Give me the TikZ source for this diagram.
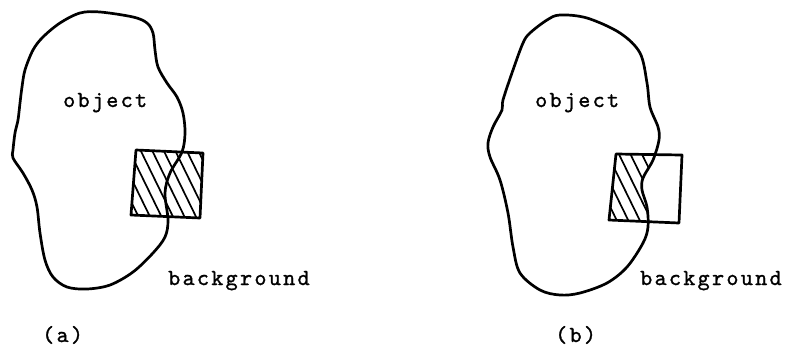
\documentclass[tikz,border=0pt]{standalone}
\usepackage{fontspec}
\newfontfamily\typewriter{lmmono10-regular}[Extension=.otf, LetterSpace=10, FakeBold=1.2]
\tikzset{
  outline/.style={line width=2.7pt, line join=round},
  window/.style={line width=2.7pt, line join=round},
  hatch/.style={line width=1.7pt},
  label/.style={font=\typewriter\fontsize{23}{26}\selectfont, inner sep=0pt, anchor=base west},
}
\begin{document}
\begin{tikzpicture}[x=1pt,y=-1pt]
\useasboundingbox (0,0) rectangle (789,349);

% ---------- (a): window straddling the boundary, fully hatched ----------
\def\blobA{plot[smooth cycle, tension=0.55] coordinates {
  (80,13) (100,12) (133,17) (147,23) (153,33) (155,50) (158,67) (167,83)
  (177,97) (183,113) (185,133) (182,152) (170,173) (165,193) (168,220)
  (165,237) (153,253) (133,272) (110,285) (87,289) (67,287) (53,277)
  (45,260) (40,233) (37,207) (32,190) (23,173) (13,158) (13,150) (15,133)
  (18,120) (20,103) (22,87) (25,70) (33,50) (43,37) (60,23)}}
\coordinate (a1) at (136,150);
\coordinate (a2) at (203,153);
\coordinate (a3) at (200,218);
\coordinate (a4) at (131,215);
\begin{scope}
  \clip (a1) -- (a2) -- (a3) -- (a4) -- cycle;
  \foreach \c in {-60,-48.5,...,220}
    \draw[hatch] (\c,140) -- ({\c+44},230);
\end{scope}
\draw[outline] \blobA;
\draw[window] (a1) -- (a2) -- (a3) -- (a4) -- cycle;

\node[label] (objA) at (63,107) {object};
\node[label] (bgA) at (168,285) {background};
\node[label] (capA) at (42,342) {(a)};

% ---------- (b): window straddling the boundary, object part hatched ----------
\def\blobB{plot[smooth cycle, tension=0.55] coordinates {
  (560,15) (587,18) (620,33) (640,53) (647,83) (650,107) (658,127)
  (659,140) (653,160) (643,178) (642,190) (647,207) (648,227) (643,243)
  (627,267) (607,283) (580,293) (560,295) (540,290) (520,273) (513,247)
  (508,213) (500,180) (490,157) (488,143) (493,127) (502,110) (503,100)
  (513,70) (523,43) (530,33) (547,20)}}
\coordinate (b1) at (616,154);
\coordinate (b2) at (682,155);
\coordinate (b3) at (679,223);
\coordinate (b4) at (609,220);
\begin{scope}
  \clip (b1) -- (b2) -- (b3) -- (b4) -- cycle;
  \clip \blobB;
  \foreach \c in {520,531.5,...,720}
    \draw[hatch] (\c,140) -- ({\c+44},230);
\end{scope}
\draw[outline] \blobB;
\draw[window] (b1) -- (b2) -- (b3) -- (b4) -- cycle;

\node[label] (objB) at (535,107) {object};
\node[label] (bgB) at (640,285) {background};
\node[label] (capB) at (555,342) {(b)};
\end{tikzpicture}
\end{document}
